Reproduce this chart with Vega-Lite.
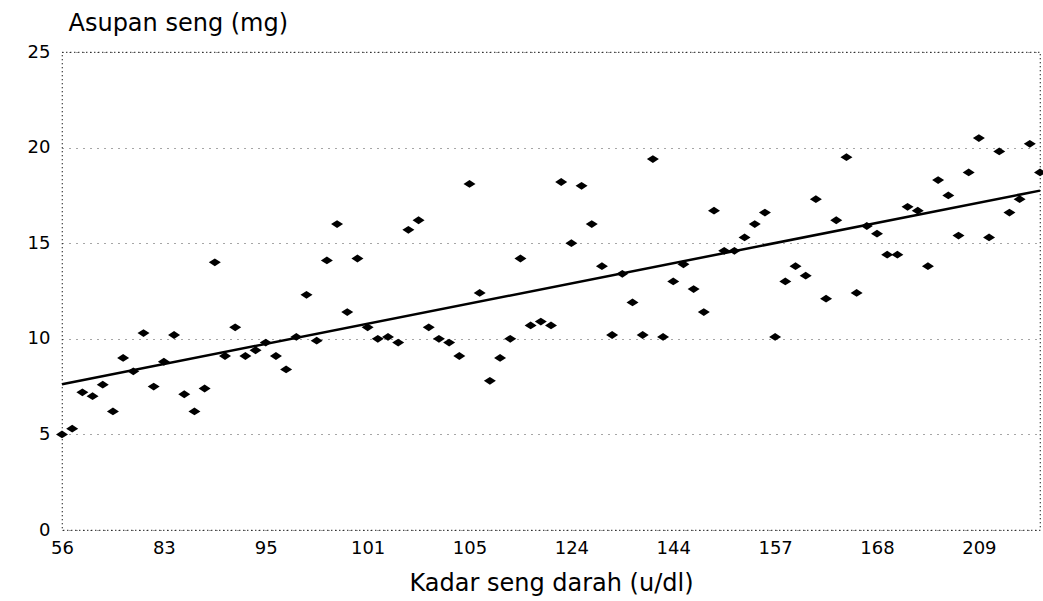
{
  "$schema": "https://vega.github.io/schema/vega-lite/v6.json",
  "width": 978,
  "height": 478,
  "autosize": "none",
  "padding": {"left": 62, "top": 52, "right": 3, "bottom": 71},
  "background": "white",
  "config": {
    "view": {"stroke": "#000", "strokeDash": [1, 3], "strokeWidth": 1.2},
    "font": "DejaVu Sans"
  },
  "data": {
    "values": [
      {"i":0,"y":5.0},{"i":1,"y":5.3},{"i":2,"y":7.2},{"i":3,"y":7.0},{"i":4,"y":7.6},
      {"i":5,"y":6.2},{"i":6,"y":9.0},{"i":7,"y":8.3},{"i":8,"y":10.3},{"i":9,"y":7.5},
      {"i":10,"y":8.8},{"i":11,"y":10.2},{"i":12,"y":7.1},{"i":13,"y":6.2},{"i":14,"y":7.4},
      {"i":15,"y":14.0},{"i":16,"y":9.1},{"i":17,"y":10.6},{"i":18,"y":9.1},{"i":19,"y":9.4},
      {"i":20,"y":9.8},{"i":21,"y":9.1},{"i":22,"y":8.4},{"i":23,"y":10.1},{"i":24,"y":12.3},
      {"i":25,"y":9.9},{"i":26,"y":14.1},{"i":27,"y":16.0},{"i":28,"y":11.4},{"i":29,"y":14.2},
      {"i":30,"y":10.6},{"i":31,"y":10.0},{"i":32,"y":10.1},{"i":33,"y":9.8},{"i":34,"y":15.7},
      {"i":35,"y":16.2},{"i":36,"y":10.6},{"i":37,"y":10.0},{"i":38,"y":9.8},{"i":39,"y":9.1},
      {"i":40,"y":18.1},{"i":41,"y":12.4},{"i":42,"y":7.8},{"i":43,"y":9.0},{"i":44,"y":10.0},
      {"i":45,"y":14.2},{"i":46,"y":10.7},{"i":47,"y":10.9},{"i":48,"y":10.7},{"i":49,"y":18.2},
      {"i":50,"y":15.0},{"i":51,"y":18.0},{"i":52,"y":16.0},{"i":53,"y":13.8},{"i":54,"y":10.2},
      {"i":55,"y":13.4},{"i":56,"y":11.9},{"i":57,"y":10.2},{"i":58,"y":19.4},{"i":59,"y":10.1},
      {"i":60,"y":13.0},{"i":61,"y":13.9},{"i":62,"y":12.6},{"i":63,"y":11.4},{"i":64,"y":16.7},
      {"i":65,"y":14.6},{"i":66,"y":14.6},{"i":67,"y":15.3},{"i":68,"y":16.0},{"i":69,"y":16.6},
      {"i":70,"y":10.1},{"i":71,"y":13.0},{"i":72,"y":13.8},{"i":73,"y":13.3},{"i":74,"y":17.3},
      {"i":75,"y":12.1},{"i":76,"y":16.2},{"i":77,"y":19.5},{"i":78,"y":12.4},{"i":79,"y":15.9},
      {"i":80,"y":15.5},{"i":81,"y":14.4},{"i":82,"y":14.4},{"i":83,"y":16.9},{"i":84,"y":16.7},
      {"i":85,"y":13.8},{"i":86,"y":18.3},{"i":87,"y":17.5},{"i":88,"y":15.4},{"i":89,"y":18.7},
      {"i":90,"y":20.5},{"i":91,"y":15.3},{"i":92,"y":19.8},{"i":93,"y":16.6},{"i":94,"y":17.3},
      {"i":95,"y":20.2},{"i":96,"y":18.7}
    ]
  },
  "encoding": {
    "x": {
      "field": "i",
      "type": "quantitative",
      "scale": {"domain": [0, 96], "nice": false, "zero": false},
      "axis": {
        "values": [0, 10, 20, 30, 40, 50, 60, 70, 80, 90],
        "labelExpr": "['56','83','95','101','105','124','144','157','168','209'][round(datum.value/10)]",
        "labelFlush": false,
        "labelOverlap": false,
        "grid": false,
        "domain": false,
        "ticks": false,
        "labelPadding": 9,
        "labelFontSize": 18,
        "labelColor": "#000",
        "labelFont": "DejaVu Sans",
        "title": "Kadar seng darah (u/dl)",
        "titleFontSize": 24,
        "titleFontWeight": "normal",
        "titleFont": "DejaVu Sans",
        "titleColor": "#000",
        "titleBaseline": "alphabetic",
        "titleY": 60
      }
    },
    "y": {
      "field": "y",
      "type": "quantitative",
      "scale": {"domain": [0, 25], "nice": false},
      "axis": {
        "values": [0, 5, 10, 15, 20, 25],
        "grid": true,
        "gridColor": "#000",
        "gridDash": [1, 6],
        "gridOpacity": 0.7,
        "domain": false,
        "ticks": false,
        "labelPadding": 12,
        "labelFontSize": 18,
        "labelColor": "#000",
        "labelFont": "DejaVu Sans",
        "title": "Asupan seng (mg)",
        "titleAngle": 0,
        "titleAlign": "left",
        "titleBaseline": "alphabetic",
        "titleX": 6,
        "titleY": -22,
        "titleFontSize": 24,
        "titleFontWeight": "normal",
        "titleFont": "DejaVu Sans",
        "titleColor": "#000"
      }
    }
  },
  "layer": [
    {
      "mark": {
        "type": "point",
        "filled": true,
        "color": "#000",
        "opacity": 1,
        "shape": "M-1,0L0,-0.65L1,0L0,0.65Z",
        "size": 144
      }
    },
    {
      "transform": [{"regression": "y", "on": "i", "extent": [0, 96]}],
      "mark": {"type": "line", "color": "#000", "strokeWidth": 2.5}
    }
  ]
}
